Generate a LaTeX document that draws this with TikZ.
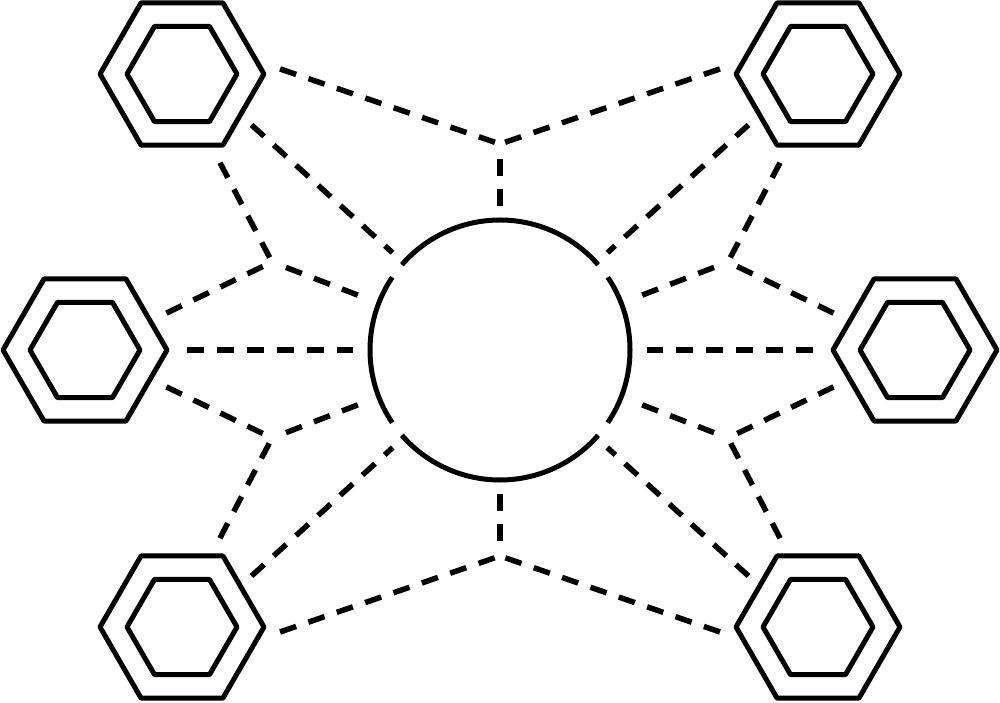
\documentclass[tikz,border=0pt]{standalone}
\usetikzlibrary{shapes.geometric}

\begin{document}
\begin{tikzpicture} [hexout/.style = {draw,
					    regular polygon,
					    regular polygon sides = 6,
					    minimum size = 1.64cm,
					    inner sep = 0pt,
					    outer sep = 0pt,
					    line width = 0.5mm,
					    line join = round},
					hexin/.style = {hexout,
					    minimum size = 1.1cm},
					ring/.style = {line width = 0.5mm},
					link/.style = {line width = 0.55mm,
					    dash pattern = on 1.7mm off 1.3mm}]

					\useasboundingbox (-5,-3.52) rectangle (5,3.5);

					\node (C) [circle, minimum size = 2.6cm, inner sep = 0pt, outer sep = 0pt] {};
					\draw [ring] (C.41) arc (41:139:1.3cm);
					\draw [ring] (C.146) arc (146:214:1.3cm);
					\draw [ring] (C.221) arc (221:319:1.3cm);
					\draw [ring] (C.326) arc (326:394:1.3cm);

					\node (TL) at (-3.18,2.76) [hexout] {};
					\node (TR) at (3.18,2.76) [hexout] {};
					\node (ML) at (-4.15,0) [hexout] {};
					\node (MR) at (4.15,0) [hexout] {};
					\node (BL) at (-3.18,-2.77) [hexout] {};
					\node (BR) at (3.18,-2.77) [hexout] {};

					\node (TLin) at (TL) [hexin] {};
					\node (TRin) at (TR) [hexin] {};
					\node (MLin) at (ML) [hexin] {};
					\node (MRin) at (MR) [hexin] {};
					\node (BLin) at (BL) [hexin] {};
					\node (BRin) at (BR) [hexin] {};

					\coordinate (JT) at (0,2.06);
					\coordinate (JB) at (0,-2.06);
					\coordinate (JL1) at (-2.28,0.88);
					\coordinate (JL2) at (-2.28,-0.88);
					\coordinate (JR1) at (2.28,0.88);
					\coordinate (JR2) at (2.28,-0.88);

					% top and bottom
					\draw [link, shorten <= 2.5mm] (TL.10) -- (JT);
					\draw [link, shorten <= 2.5mm] (TR.170) -- (JT);
					\draw [link, shorten <= 1.5mm, shorten >= 1.4mm] (JT) -- (C);
					\draw [link, shorten <= 2.5mm] (BL.-10) -- (JB);
					\draw [link, shorten <= 2.5mm] (BR.190) -- (JB);
					\draw [link, shorten <= 1.5mm, shorten >= 1.4mm] (JB) -- (C);

					% diagonals
					\draw [link, shorten <= 1.5mm, shorten >= 1.5mm] (TL.-35) -- (C);
					\draw [link, shorten <= 1.5mm, shorten >= 1.5mm] (TR.215) -- (C);
					\draw [link, shorten <= 1.5mm, shorten >= 1.5mm] (BL.35) -- (C);
					\draw [link, shorten <= 1.5mm, shorten >= 1.5mm] (BR.145) -- (C);

					% left side
					\draw [link, shorten <= 2mm] (TL.-68) -- (JL1);
					\draw [link, shorten <= 1.8mm] (ML.24) -- (JL1);
					\draw [link, shorten <= 1.5mm, shorten >= 2mm] (JL1) -- (C);
					\draw [link, shorten <= 2mm] (BL.68) -- (JL2);
					\draw [link, shorten <= 1.8mm] (ML.-24) -- (JL2);
					\draw [link, shorten <= 1.5mm, shorten >= 2mm] (JL2) -- (C);
					\draw [link, shorten <= 2mm, shorten >= 1.7mm] (ML) -- (C);

					% right side
					\draw [link, shorten <= 2mm] (TR.248) -- (JR1);
					\draw [link, shorten <= 1.8mm] (MR.156) -- (JR1);
					\draw [link, shorten <= 1.5mm, shorten >= 2mm] (JR1) -- (C);
					\draw [link, shorten <= 2mm] (BR.112) -- (JR2);
					\draw [link, shorten <= 1.8mm] (MR.204) -- (JR2);
					\draw [link, shorten <= 1.5mm, shorten >= 2mm] (JR2) -- (C);
					\draw [link, shorten <= 2mm, shorten >= 1.7mm] (MR) -- (C);

				\end{tikzpicture}
\end{document}
